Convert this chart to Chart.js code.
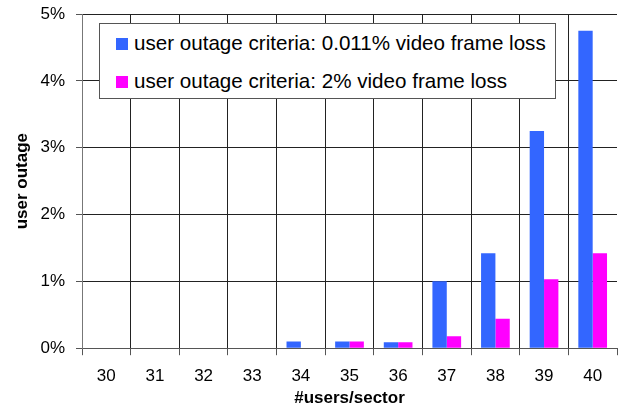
<!DOCTYPE html>
<html>
<head>
<meta charset="utf-8">
<script src="https://cdn.jsdelivr.net/npm/chart.js@4.4.0/dist/chart.umd.min.js"></script>
<style>
  html, body { margin: 0; padding: 0; background: #fff; }
  #wrap { position: relative; width: 620px; height: 409px; }
  #legendBox {
    position: absolute; left: 99px; top: 23px; width: 455px; height: 74px;
    border: 1px solid #555; background: #fff;
    font-family: "Liberation Sans", Arial, sans-serif; font-size: 20.6px; color: #000;
  }
  #legendBox .row { position: absolute; left: 16px; height: 24px; line-height: 24px; white-space: nowrap; }
  #legendBox .sw { display: inline-block; width: 12px; height: 12px; margin-right: 6px; vertical-align: 0px; }
</style>
</head>
<body>
<div id="wrap">
  <canvas id="barChart" width="620" height="409"></canvas>
  <div id="legendBox"></div>
</div>
<script>
var users = ["30", "31", "32", "33", "34", "35", "36", "37", "38", "39", "40"];
var outageStrict = [0, 0, 0, 0, 0.10, 0.10, 0.09, 1.00, 1.42, 3.25, 4.75];
var outageLoose = [0, 0, 0, 0, 0, 0.10, 0.09, 0.18, 0.44, 1.03, 1.42];
var seriesNames = ["user outage criteria: 0.011% video frame loss", "user outage criteria: 2% video frame loss"];
var seriesColors = ["#3366ff", "#ff00ff"];
var yTicks = [0, 1, 2, 3, 4, 5];

var font = "'Liberation Sans', Arial, sans-serif";

var barData = {
    labels: users,
    datasets: [
        {
            label: seriesNames[0],
            backgroundColor: seriesColors[0],
            data: outageStrict
        },
        {
            label: seriesNames[1],
            backgroundColor: seriesColors[1],
            data: outageLoose
        }
    ]
};

var barOptions = {
    responsive: false,
    animation: false,
    layout: { padding: { left: 12, right: 3, top: 14, bottom: 0 } },
    plugins: {
        legend: { display: false },
        tooltip: { enabled: false }
    },
    datasets: { bar: { categoryPercentage: 0.59, barPercentage: 1.0 } },
    scales: {
        x: {
            grid: {
                // no line on the right edge, only its tick
                color: function (c) { return c.tick ? "#222" : "rgba(0,0,0,0)"; },
                lineWidth: 1, offset: true, tickLength: 7, tickColor: "#555"
            },
            border: { color: "#555" },
            ticks: { color: "#000", font: { family: font, size: 17 }, padding: 11 },
            title: { display: true, text: "#users/sector", color: "#000",
                     font: { family: font, size: 17, weight: "bold" }, padding: { top: -9, bottom: 0 } }
        },
        y: {
            min: 0, max: 5,
            afterBuildTicks: function (axis) {
                axis.ticks = yTicks.map(function (v) { return { value: v }; });
            },
            afterFit: function (axis) {
                axis.width = 70;
                axis.paddingTop = 0;
                axis.paddingBottom = 0;
            },
            grid: { color: "#222", lineWidth: 1, tickLength: 6, tickColor: "#555" },
            border: { color: "#777" },
            ticks: {
                color: "#000", font: { family: font, size: 17 }, padding: 11,
                callback: function (v) { return v + "%"; }
            },
            title: { display: true, text: "user outage", color: "#000",
                     font: { family: font, size: 17, weight: "bold" }, padding: { top: 0, bottom: 0 } }
        }
    }
};

var ctx = document.getElementById("barChart").getContext("2d");
new Chart(ctx, { type: "bar", data: barData, options: barOptions });

// legend box drawn inside the plot, from the series names
var box = document.getElementById("legendBox");
seriesNames.forEach(function (name, i) {
    var row = document.createElement("div");
    row.className = "row";
    row.style.top = (7 + i * 38) + "px";
    row.innerHTML = '<span class="sw" style="background:' + seriesColors[i] + '"></span>' + name;
    box.appendChild(row);
});
</script>
</body>
</html>
